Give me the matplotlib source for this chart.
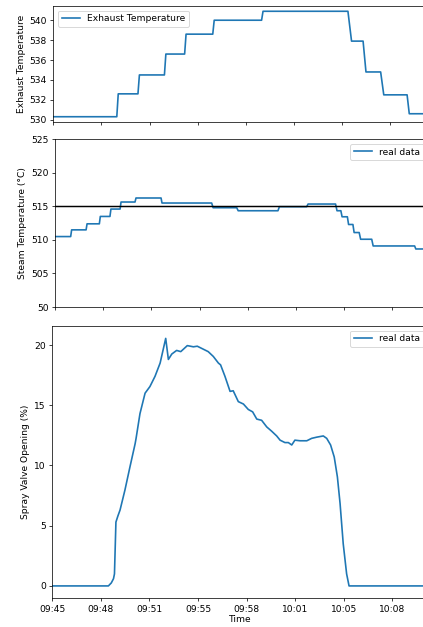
import matplotlib
matplotlib.use("Agg")
import matplotlib.pyplot as plt
import matplotlib.dates as mdates
import matplotlib.ticker as mticker
import pandas as pd

# ---------------- data ----------------
day = "2023-01-01 "

exhaust_times = ["09:45:00", "09:49:24", "09:49:30", "09:50:52", "09:50:58", "09:52:42",
                 "09:52:48", "09:54:06", "09:54:12", "09:56:03", "09:56:09", "09:59:26",
                 "09:59:32", "10:05:25", "10:05:40", "10:06:28", "10:06:40", "10:07:41",
                 "10:07:54", "10:09:31", "10:09:40", "10:10:50"]
exhaust_vals = [530.3, 530.3, 532.6, 532.6, 534.5, 534.5,
                536.6, 536.6, 538.6, 538.6, 540.0, 540.0,
                540.9, 540.9, 537.9, 537.9, 534.8, 534.8,
                532.5, 532.5, 530.6, 530.6]

steam_secs = [0, 65, 69, 129, 133, 184, 188, 228, 232, 270, 274, 332, 336, 440, 444,
              650, 656, 754, 760, 925, 931, 1044, 1050, 1164, 1170, 1186, 1191, 1213,
              1218, 1236, 1241, 1262, 1268, 1314, 1320, 1492, 1497, 1550]
steam_vals = [510.5, 510.5, 511.5, 511.5, 512.4, 512.4, 513.5, 513.5, 514.6, 514.6,
              515.65, 515.65, 516.25, 516.25, 515.5, 515.5, 514.8, 514.8, 514.35, 514.35,
              514.95, 514.95, 515.35, 515.35, 514.35, 514.35, 513.45, 513.45, 512.3, 512.3,
              511.1, 511.1, 510.1, 510.1, 509.1, 509.1, 508.65, 508.65]
steam_setpoint = 515.0

valve_secs = [0, 231, 243, 252, 256, 262, 270, 279, 299, 320, 341, 345, 361, 382, 402,
              423, 444, 467, 478, 492, 512, 529, 556, 581, 597, 622, 642, 663, 684, 693,
              711, 732, 745, 766, 787, 807, 825, 842, 862, 883, 903, 924, 938, 958, 972,
              986, 999, 1020, 1048, 1068, 1089, 1116, 1130, 1146, 1161, 1174, 1185, 1198,
              1212, 1222, 1550]
valve_vals = [0, 0, 0.25, 0.6, 1.0, 5.3, 5.8, 6.3, 7.95, 9.9, 11.8, 12.25, 14.3, 16.0, 16.55,
              17.4, 18.5, 20.55, 18.8, 19.25, 19.55, 19.45, 19.95, 19.85, 19.9, 19.65, 19.45,
              19.05, 18.5, 18.35, 17.4, 16.15, 16.2, 15.3, 15.1, 14.65, 14.45, 13.85, 13.75,
              13.2, 12.85, 12.45, 12.1, 11.9, 11.9, 11.7, 12.1, 12.05, 12.05, 12.25, 12.35,
              12.45, 12.25, 11.7, 10.7, 9.05, 6.85, 3.5, 1.0, 0, 0]

exhaust_ticks = [530, 532, 534, 536, 538, 540]
steam_ticks = [500, 505, 510, 515, 520, 525]
steam_tick_labels = ["50", "505", "510", "515", "520", "525"]

t0 = pd.Timestamp(day + "09:45:00")
t_end = pd.Timestamp(day + "10:10:50")
exhaust_t = pd.to_datetime([day + s for s in exhaust_times])
steam_t = t0 + pd.to_timedelta(steam_secs, unit="s")
valve_t = t0 + pd.to_timedelta(valve_secs, unit="s")
xticks = [t0 + pd.Timedelta(seconds=200 * i) for i in range(8)]

# ---------------- figure ----------------
W, H, DPI = 423, 627, 66
fig = plt.figure(figsize=(W / DPI, H / DPI), dpi=DPI)

def add_ax(left, right, top, bottom):
    return fig.add_axes([left / W, 1 - bottom / H, (right - left) / W, (bottom - top) / H])

ax1 = add_ax(53.3, 426.1, 6, 122)
ax2 = add_ax(55.0, 428.6, 139.3, 307)
ax3 = add_ax(52.3, 428.7, 326, 598.3)

c = "#1f77b4"
lw = 1.8
ax1.plot(exhaust_t, exhaust_vals, color=c, lw=lw, label="Exhaust Temperature")
ax1.yaxis.set_major_locator(mticker.FixedLocator(exhaust_ticks))
ax1.set_ylabel("Exhaust Temperature")
ax1.legend(loc="upper left")

ax2.plot(steam_t, steam_vals, color=c, lw=lw, label="real data")
ax2.axhline(steam_setpoint, color="black", lw=1.6)
ax2.set_ylim(500, 525)
ax2.yaxis.set_major_locator(mticker.FixedLocator(steam_ticks))
ax2.yaxis.set_major_formatter(mticker.FixedFormatter(steam_tick_labels))
ax2.set_ylabel("Steam Temperature (°C)")
ax2.legend(loc="upper right")

ax3.plot(valve_t, valve_vals, color=c, lw=lw, label="real data")
ax3.set_ylabel("Spray Valve Opening (%)")
ax3.set_xlabel("Time", labelpad=1)
ax3.legend(loc="upper right")

for ax in (ax1, ax2, ax3):
    ax.set_xlim(t0, t_end)
    ax.set_xticks(xticks)
    ax.xaxis.set_major_formatter(mdates.DateFormatter("%H:%M"))
for ax in (ax1, ax2):
    ax.tick_params(axis="x", labelbottom=False)

fig.savefig("out.png", dpi=DPI)
